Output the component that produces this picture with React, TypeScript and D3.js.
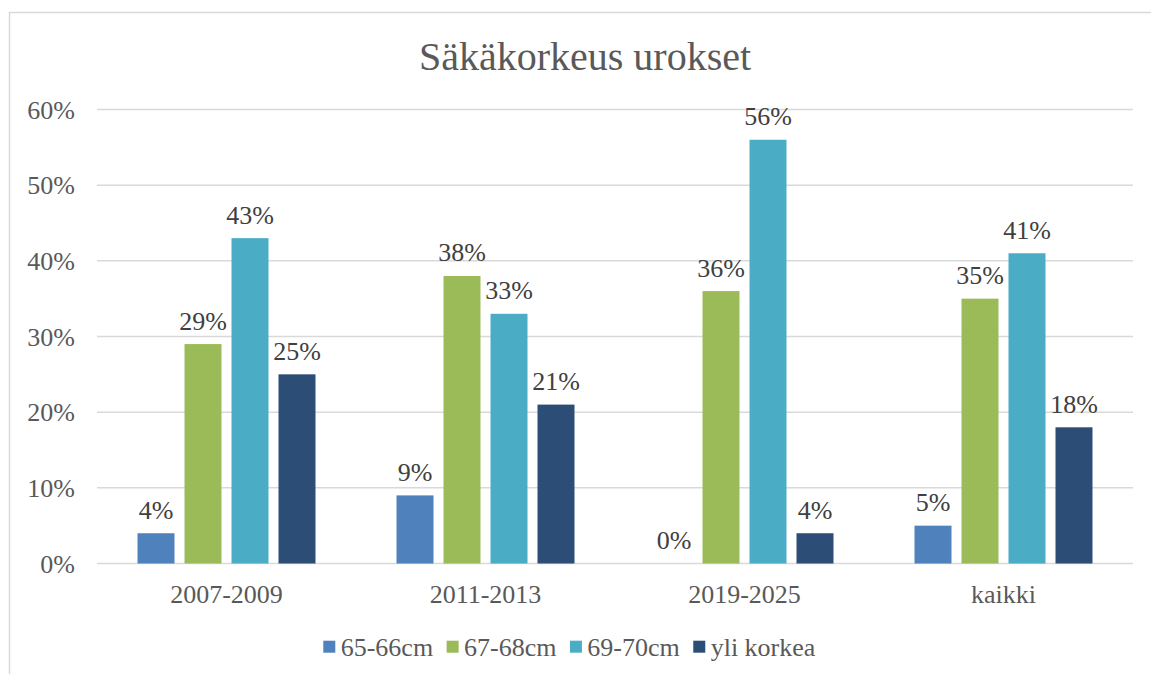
import React, { useRef, useEffect } from 'react';
import * as d3 from 'd3';

const categories = ['2007-2009', '2011-2013', '2019-2025', 'kaikki'];
const seriesNames = ['65-66cm', '67-68cm', '69-70cm', 'yli korkea'];
const s6566 = [4, 9, 0, 5];
const s6768 = [29, 38, 36, 35];
const s6970 = [43, 33, 56, 41];
const sYli = [25, 21, 4, 18];
const yTicks = [0, 10, 20, 30, 40, 50, 60];
const colors = ['#4f81bd', '#9bbb59', '#4bacc6', '#2c4d75'];

const W = 1151;
const H = 674;
const FONT = "'Liberation Serif', 'Times New Roman', serif";

const App = () => {
  const svgRef = useRef<SVGSVGElement>(null);

  useEffect(() => {
    const svg = d3.select(svgRef.current);
    svg.selectAll('*').remove();

    const series = [s6566, s6768, s6970, sYli];
    const rows = categories.map((c, i) => ({
      cat: c,
      vals: series.map((s, k) => ({ name: seriesNames[k], value: s[i], k })),
    }));

    // chart border (runs off the right / bottom of the picture)
    svg.append('rect')
      .attr('x', 9.5).attr('y', 12.5)
      .attr('width', 1200).attr('height', 720)
      .attr('fill', 'white')
      .attr('stroke', '#d9d9d9').attr('stroke-width', 1.5);

    svg.append('text')
      .attr('x', 585).attr('y', 70)
      .attr('text-anchor', 'middle')
      .style('font-family', FONT).style('font-size', '40px')
      .style('fill', '#595959')
      .text('Säkäkorkeus urokset');

    const x0 = d3.scaleBand().domain(categories).range([97, 1133]);
    const x1 = d3.scaleBand().domain(seriesNames)
      .range([0, x0.bandwidth()])
      .paddingInner(0.213).paddingOuter(0.862);
    const y = d3.scaleLinear().domain([0, 60]).range([563.5, 109.5]);

    const grid = svg.append('g');
    grid.selectAll('line')
      .data(yTicks)
      .enter()
      .append('line')
      .attr('x1', 97).attr('x2', 1133)
      .attr('y1', d => y(d)).attr('y2', d => y(d))
      .attr('stroke', '#d9d9d9').attr('stroke-width', 1.5);

    const yAxis = d3.axisLeft(y).tickValues(yTicks).tickSize(0).tickPadding(0)
      .tickFormat(d => `${d}%`);
    const yg = svg.append('g').attr('transform', 'translate(75,0)').call(yAxis);
    yg.select('.domain').remove();
    yg.selectAll('text')
      .attr('dy', '0.33em')
      .style('font-family', FONT).style('font-size', '26px').style('fill', '#595959');

    const groups = svg.append('g').selectAll('g')
      .data(rows)
      .enter()
      .append('g')
      .attr('transform', d => `translate(${x0(d.cat)},0)`);

    groups.selectAll('rect')
      .data(d => d.vals)
      .enter()
      .append('rect')
      .attr('x', d => x1(d.name)!)
      .attr('width', x1.bandwidth())
      .attr('y', d => y(d.value))
      .attr('height', d => y(0) - y(d.value))
      .attr('fill', d => colors[d.k]);

    groups.selectAll('text')
      .data(d => d.vals)
      .enter()
      .append('text')
      .attr('x', d => x1(d.name)! + x1.bandwidth() / 2)
      .attr('y', d => y(d.value) - 14.5)
      .attr('text-anchor', 'middle')
      .style('font-family', FONT).style('font-size', '26px').style('fill', '#404040')
      .text(d => `${d.value}%`);

    const xAxis = d3.axisBottom(x0).tickSize(0).tickPadding(0);
    const xg = svg.append('g').attr('transform', 'translate(0,603)').call(xAxis);
    xg.select('.domain').remove();
    xg.selectAll('text')
      .attr('y', 0).attr('dy', 0)
      .style('font-family', FONT).style('font-size', '26px').style('fill', '#595959');

    // legend
    const legend = svg.append('g');
    let lx = 323.3;
    seriesNames.forEach((name, k) => {
      legend.append('rect')
        .attr('x', lx).attr('y', 640.7)
        .attr('width', 12).attr('height', 12)
        .attr('fill', colors[k]);
      const t = legend.append('text')
        .attr('x', lx + 17.4).attr('y', 656)
        .style('font-family', FONT).style('font-size', '26px').style('fill', '#595959')
        .text(name);
      const w = (t.node() as SVGTextElement).getComputedTextLength();
      lx = lx + 17.4 + w + 13.5;
    });
  }, []);

  return (
    <svg ref={svgRef} width={W} height={H}
      style={{ position: 'absolute', left: 0, top: 0, background: 'white' }} />
  );
};

export default App;
